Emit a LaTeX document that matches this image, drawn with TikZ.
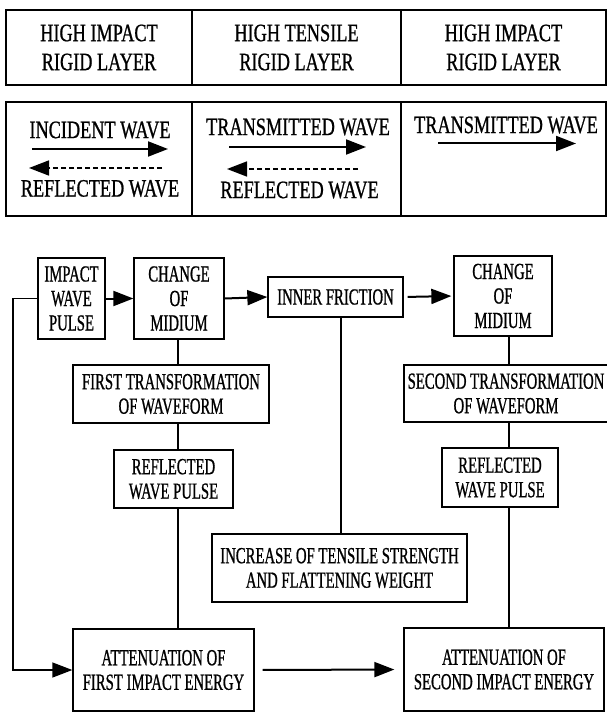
\documentclass[tikz,border=0pt]{standalone}
\usepackage{fontspec}
\setmainfont[FakeStretch=0.64,FakeBold=0.8]{Liberation Serif}
\newfontfamily\tabfont[FakeStretch=0.73,FakeBold=0.8]{Liberation Serif}
\usetikzlibrary{arrows.meta}
\newcommand\flowsize{\fontsize{23}{24.5}\selectfont}
\newcommand\tabsize{\tabfont\fontsize{25}{29}\selectfont}
\begin{document}
\begin{tikzpicture}[x=1pt,y=-1pt,
  fbox/.style={draw, line width=1.3pt, inner sep=0pt, align=center, font=\flowsize},
  cell/.style={draw, line width=1.3pt, inner sep=0pt, align=center, font=\tabsize},
  ttext/.style={inner sep=0pt, align=center, font=\tabsize},
  ln/.style={line width=1.3pt},
  arr/.style={line width=2pt, -{Triangle[length=20pt,width=15pt]}},
  darr/.style={line width=1.6pt, dash pattern=on 5pt off 3pt, -{Triangle[length=20pt,width=15pt]}}]
\useasboundingbox (0,0) rectangle (607,714);

% ---------- top table ----------
\node[cell, minimum width=186pt, minimum height=75pt] (t11) at (99,47.5) {HIGH IMPACT\\RIGID LAYER};
\node[cell, minimum width=209pt, minimum height=75pt] (t12) at (296.5,47.5) {HIGH TENSILE\\RIGID LAYER};
\node[cell, minimum width=205pt, minimum height=75pt] (t13) at (503.5,47.5) {HIGH IMPACT\\RIGID LAYER};

% ---------- wave table ----------
\node[cell, minimum width=186pt, minimum height=114pt] (t21) at (99,159) {};
\node[cell, minimum width=209pt, minimum height=114pt] (t22) at (296.5,159) {};
\node[cell, minimum width=205pt, minimum height=114pt] (t23) at (503.5,159) {};

\node[ttext] (inc) at (100,130) {INCIDENT WAVE};
\node[ttext] (ref1) at (100,188.5) {REFLECTED WAVE};
\coordinate (a1s) at (32,149); \coordinate (a1e) at (168,149);
\coordinate (d1s) at (162,168); \coordinate (d1e) at (29,168);
\draw[arr] (a1s) -- (a1e);
\draw[darr] (d1s) -- (d1e);

\node[ttext] (tr1) at (298,127) {TRANSMITTED WAVE};
\node[ttext] (ref2) at (299.5,190) {REFLECTED WAVE};
\coordinate (a2s) at (229,147); \coordinate (a2e) at (366,147);
\coordinate (d2s) at (358,169); \coordinate (d2e) at (227,169);
\draw[arr] (a2s) -- (a2e);
\draw[darr] (d2s) -- (d2e);

\node[ttext] (tr2) at (506,125) {TRANSMITTED WAVE};
\coordinate (a3s) at (438,143.5); \coordinate (a3e) at (576,143.5);
\draw[arr] (a3s) -- (a3e);

% ---------- flow chart ----------
\node[fbox, minimum width=67pt, minimum height=81pt] (imp) at (71.5,298.5) {IMPACT\\WAVE\\PULSE};
\node[fbox, minimum width=90pt, minimum height=81pt] (chg1) at (179,298.5) {CHANGE\\OF\\MIDIUM};
\node[fbox, minimum width=135pt, minimum height=40pt] (inner) at (335.5,297) {INNER FRICTION};
\node[fbox, minimum width=98pt, minimum height=80pt] (chg2) at (503,296) {CHANGE\\OF\\MIDIUM};
\node[fbox, minimum width=196pt, minimum height=58pt] (first) at (171,394) {FIRST TRANSFORMATION\\OF WAVEFORM};
\node[fbox, minimum width=204pt, minimum height=57pt] (second) at (506,393.5) {SECOND TRANSFORMATION\\OF WAVEFORM};
\node[fbox, minimum width=119pt, minimum height=58pt] (refl1) at (173.5,479) {REFLECTED\\WAVE PULSE};
\node[fbox, minimum width=116pt, minimum height=59pt] (refl2) at (500,477.5) {REFLECTED\\WAVE PULSE};
\node[fbox, minimum width=255pt, minimum height=68pt] (incr) at (339.5,568) {INCREASE OF TENSILE STRENGTH\\AND FLATTENING WEIGHT};
\node[fbox, minimum width=181pt, minimum height=82pt] (att1) at (163.5,670) {ATTENUATION OF\\FIRST IMPACT ENERGY};
\node[fbox, minimum width=200pt, minimum height=83pt] (att2) at (504,669.5) {ATTENUATION OF\\SECOND IMPACT ENERGY};

\coordinate (lx1) at (178,0);
\coordinate (lx2) at (341,0);
\coordinate (lx3) at (509,0);
\coordinate (fbx) at (13,0);

\draw[arr] (imp.east) -- (chg1.west);
\draw[arr] (chg1.east) -- (inner.west);
\draw[arr, shorten <=4pt, shorten >=2pt] (inner.east) -- (chg2.west);

\draw[ln] (chg1.south -| lx1) -- (first.north -| lx1);
\draw[ln] (first.south -| lx1) -- (refl1.north -| lx1);
\draw[ln] (refl1.south -| lx1) -- (att1.north -| lx1);

\draw[ln] (inner.south -| lx2) -- (incr.north -| lx2);

\draw[ln] (chg2.south -| lx3) -- (second.north -| lx3);
\draw[ln] (second.south -| lx3) -- (refl2.north -| lx3);
\draw[ln] (refl2.south -| lx3) -- (att2.north -| lx3);

\draw[ln, -{Triangle[length=20pt,width=15pt]}] (imp.west) -- (imp.west -| fbx) |- (att1.west);
\draw[arr, shorten <=8pt, shorten >=9pt] (att1.east) -- (att2.west);
\end{tikzpicture}
\end{document}
